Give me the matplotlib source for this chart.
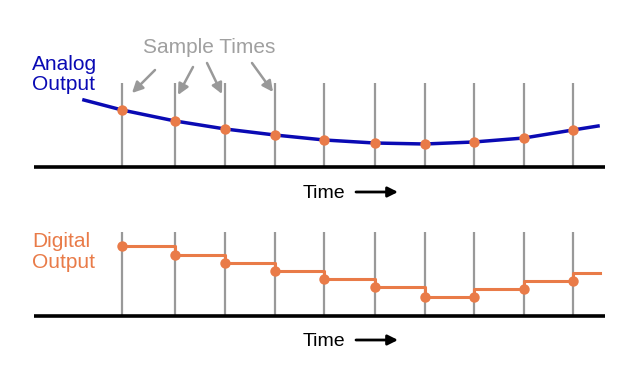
import matplotlib.pyplot as plt
from matplotlib.patches import FancyArrowPatch

# sample times (positions of the vertical lines, in sample units)
sample_t = [0, 1.06, 2.06, 3.05, 4.04, 5.04, 6.04, 7.02, 8.02, 9.0]

# analog signal: value at each sample time, plus the curve
analog_samples = [57, 46, 38, 32, 27, 24, 23, 25, 29, 37]
curve_t = [-0.76, 0, 1.06, 2.06, 3.05, 4.04, 5.04, 6.04, 7.02, 8.02, 9.0, 9.5]
curve_v = [67, 57, 46, 38, 32, 27, 24, 23, 25, 29, 37, 41]

# digital output: held level after each sample, and the sampled dots
step_edges = sample_t + [9.54]
step_levels = [70, 61, 53, 45, 37, 29, 19, 27, 35, 43]
digital_dots = [70, 61, 53, 45, 37, 29, 19, 19, 27, 35]

line_top = 84
axis_span = [-1.76, 9.64]

W, H = 643, 380
BLUE = '#0a0ab4'
ORANGE = '#e97b48'
GRAY = '#999999'
FONT = 'Liberation Sans'

fig = plt.figure(figsize=(W / 100, H / 100), dpi=100)

# pixel layout: t=0 at x=122, 50.11 px per sample unit
px0, ppu = 122, 50.11
xlim = (-px0 / ppu, (W - px0) / ppu)

ax1 = fig.add_axes([0, 0.5, 1, 0.5])
ax1.set_xlim(xlim)
ax1.set_ylim(167 - 190, 167)
ax2 = fig.add_axes([0, 0, 1, 0.5])
ax2.set_xlim(xlim)
ax2.set_ylim(316 - 380, 316 - 190)
for ax in (ax1, ax2):
    ax.axis('off')
    ax.vlines(sample_t, 0, line_top, color=GRAY, lw=1.6, zorder=1)
    ax.plot(axis_span, [0, 0], color='black', lw=2.6, solid_capstyle='butt', zorder=2)

# top panel
ax1.plot(curve_t, curve_v, color=BLUE, lw=2.5, zorder=3)
ax1.plot(sample_t, analog_samples, 'o', color=ORANGE, ms=7.5, mec='none', zorder=4)

# bottom panel
ax2.step(step_edges, step_levels + step_levels[-1:], where='post', color=ORANGE, lw=2.2, zorder=3)
ax2.plot(sample_t, digital_dots, 'o', color=ORANGE, ms=7.5, mec='none', zorder=4)


def fx(x):
    return x / W


def fy(y):
    return 1 - y / H


fig.text(fx(32), fy(70), 'Analog', color=BLUE, fontsize=15, family=FONT, va='baseline')
fig.text(fx(32), fy(90), 'Output', color=BLUE, fontsize=15, family=FONT, va='baseline')
fig.text(fx(32), fy(247), 'Digital', color=ORANGE, fontsize=15, family=FONT, va='baseline')
fig.text(fx(32), fy(268), 'Output', color=ORANGE, fontsize=15, family=FONT, va='baseline')
fig.text(fx(143), fy(53), 'Sample Times', color='#a0a0a0', fontsize=15, family=FONT, va='baseline')

# arrows from the "Sample Times" label to the sample lines
arrows = [((155, 70), (132, 93)), ((193, 67), (178, 95)),
          ((207, 63), (222, 94)), ((252, 63), (273, 92))]
for (x0, y0), (x1, y1) in arrows:
    fig.add_artist(FancyArrowPatch(
        (fx(x0), fy(y0)), (fx(x1), fy(y1)), transform=fig.transFigure,
        arrowstyle='-|>', mutation_scale=16, color=GRAY, lw=1.8, shrinkA=0, shrinkB=0))

# "Time ->" labels
for base, ay in [(198, 192), (346, 340)]:
    fig.text(fx(303), fy(base), 'Time', color='black', fontsize=14, family=FONT, va='baseline')
    fig.add_artist(FancyArrowPatch(
        (fx(356), fy(ay)), (fx(398), fy(ay)), transform=fig.transFigure,
        arrowstyle='-|>', mutation_scale=15, color='black', lw=2, shrinkA=0, shrinkB=0))

fig.savefig('out.png', dpi=100)
